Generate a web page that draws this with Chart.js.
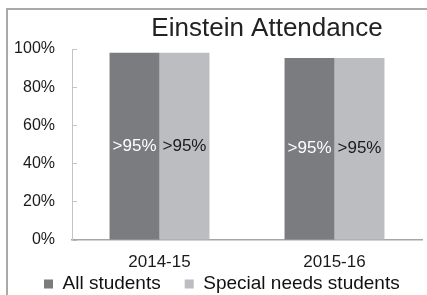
<!DOCTYPE html>
<html>
<head>
<meta charset="utf-8">
<script src="https://cdn.jsdelivr.net/npm/chart.js@4"></script>
<style>
  html, body { margin: 0; padding: 0; overflow: hidden; background: #fff; height: 295px; }
  #wrap { position: relative; width: 427px; height: 333px; }
  #frame {
    position: absolute; left: 6px; top: 8px; width: 600px; height: 400px;
    border-left: 2px solid #a9a9a9; border-top: 2px solid #a9a9a9;
    pointer-events: none;
  }
</style>
</head>
<body>
<div id="wrap">
  <canvas id="chart"></canvas>
  <div id="frame"></div>
</div>
<script>
const TITLE = 'Einstein Attendance';
const categories = ['2014-15', '2015-16'];
const seriesNames = ['All students', 'Special needs students'];
const allStudents = [98, 95.3];
const specialNeeds = [98, 95.3];
const barLabels = [['>95%', '>95%'], ['>95%', '>95%']];
const yTickLabels = ['0%', '20%', '40%', '60%', '80%', '100%'];
const colors = ['#7b7c80', '#bcbdc1'];
const labelColors = ['#ffffff', '#1a1a1a'];

const FONT = "'Liberation Sans', Arial, sans-serif";

// title drawn by hand, the original sits right of center
const titlePlugin = {
  id: 'offsetTitle',
  afterDraw(chart) {
    const ctx = chart.ctx;
    ctx.save();
    ctx.font = '26px ' + FONT;
    ctx.fillStyle = '#222';
    ctx.textAlign = 'center';
    ctx.textBaseline = 'middle';
    ctx.fillText(TITLE, 267, 29);
    ctx.restore();
  }
};

// move the legend box to where the original had it
const legendPlacer = {
  id: 'legendPlacer',
  afterLayout(chart) {
    const lg = chart.legend;
    const pad = lg.options.labels.padding;
    const dx = 44 - pad - lg.left;
    const dy = 284 - pad - 9.5 - lg.top;
    lg.left += dx; lg.right += dx;
    lg.top += dy; lg.bottom += dy;
  }
};

const barLabelPlugin = {
  id: 'barLabels',
  afterDatasetsDraw(chart) {
    const ctx = chart.ctx;
    ctx.save();
    ctx.font = '17px ' + FONT;
    ctx.textAlign = 'center';
    ctx.textBaseline = 'middle';
    chart.data.datasets.forEach((ds, di) => {
      chart.getDatasetMeta(di).data.forEach((bar, i) => {
        ctx.fillStyle = labelColors[di];
        ctx.fillText(barLabels[di][i], bar.x, (bar.y + bar.base) / 2);
      });
    });
    ctx.restore();
  }
};

new Chart(document.getElementById('chart'), {
  type: 'bar',
  data: {
    labels: categories,
    datasets: [
      { label: seriesNames[0], data: allStudents, backgroundColor: colors[0] },
      { label: seriesNames[1], data: specialNeeds, backgroundColor: colors[1] }
    ]
  },
  options: {
    responsive: true,
    maintainAspectRatio: false,
    animation: false,
    categoryPercentage: 0.571,
    barPercentage: 1.0,
    layout: { padding: { top: 49, left: 13, right: 5, bottom: 0 } },
    plugins: {
      title: { display: false },
      tooltip: { enabled: false },
      legend: {
        position: 'bottom',
        align: 'start',
        labels: {
          boxWidth: 9,
          boxHeight: 9,
          padding: 24,
          color: '#111',
          font: { family: FONT, size: 19 }
        }
      }
    },
    scales: {
      x: {
        afterFit(scale) { scale.height = 40; },
        grid: { display: false, drawTicks: false },
        border: { display: true, color: '#a6a6a6', width: 1.5 },
        ticks: { color: '#1a1a1a', padding: 12, font: { family: FONT, size: 17 } }
      },
      y: {
        min: 0,
        max: 100,
        afterFit(scale) { scale.width = 59; },
        grid: { drawOnChartArea: false, drawTicks: true, tickLength: -5, color: '#c4c4c4' },
        border: { display: true, color: '#c4c4c4' },
        ticks: {
          stepSize: 20,
          padding: 22,
          color: '#1a1a1a',
          font: { family: FONT, size: 16 },
          callback: (v) => yTickLabels[v / 20]
        }
      }
    }
  },
  plugins: [titlePlugin, legendPlacer, barLabelPlugin]
});
</script>
</body>
</html>
